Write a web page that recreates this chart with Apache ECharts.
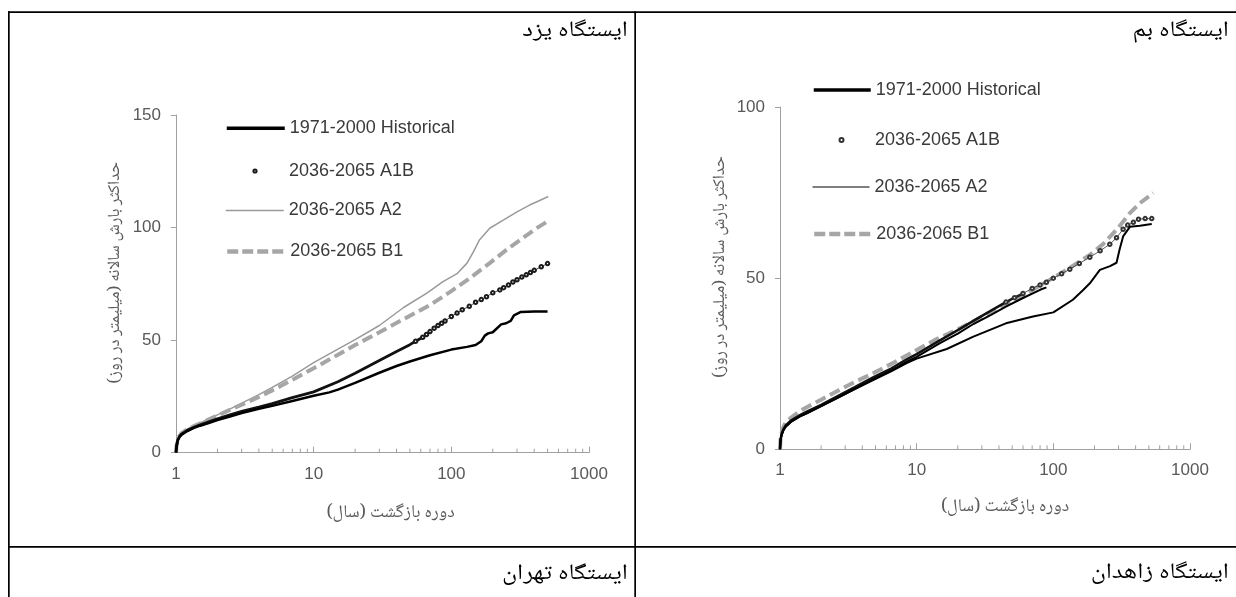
<!DOCTYPE html>
<html><head><meta charset="utf-8">
<script src="https://cdn.jsdelivr.net/npm/echarts@6/dist/echarts.min.js"></script>
<style>html,body{margin:0;padding:0;background:#fff;overflow:hidden}#c{width:1236px;height:597px}</style>
</head><body><div id="c"></div>
<script>
// ---------- data ----------
const seriesLabels = ['1971-2000 Historical', '2036-2065 A1B', '2036-2065 A2', '2036-2065 B1'];
const xTickLabels = ['1', '10', '100', '1000'];
const minorTicks = [2,3,4,5,6,7,8,9,20,30,40,50,60,70,80,90,200,300,400,500,600,700,800,900];
const yazdYTicks = [0, 50, 100, 150];
const bamYTicks = [0, 50, 100];

// Yazd station  [return period (yr), max daily precipitation (mm)]
const yazdHist = [[1,0],[1.01,3],[1.03,5.5],[1.06,7],[1.1,8],[1.2,9.5],[1.35,11],[1.5,12],[1.75,13.3],[2,14.5],[2.5,16.2],[3,17.6],[4,19.5],[5,20.8],[7,23],[10,25.3],[13,26.8],[15,28],[20,31],[30,35.5],[40,38.5],[50,40.5],[70,43.3],[100,45.8],[130,47],[150,47.8],[165,49.5],[175,52],[185,53],[200,53.5],[230,57],[250,57.5],[270,58.5],[285,61],[320,62.5],[400,62.7],[500,62.7]];
const yazdA1B = [[1,0],[1.01,3],[1.03,5.6],[1.06,7.2],[1.1,8.3],[1.2,9.8],[1.35,11.3],[1.5,12.4],[1.75,13.8],[2,15],[2.5,16.9],[3,18.4],[4,20.3],[5,21.8],[7,24.5],[10,27],[15,31.5],[20,35.3],[30,41],[40,45],[50,48],[55,49.5],[62,51.3],[66,52.5],[70,53.8],[75,55.3],[80,56.5],[85,57.5],[90,58.5],[100,60.5],[110,62],[120,63.5],[135,65],[150,66.8],[165,68],[180,69.3],[200,71],[225,72.3],[240,73.3],[260,74.5],[280,75.8],[300,76.8],[325,78],[350,79],[375,80],[400,81],[450,82.6],[500,84]];
const yazdA2 = [[1,0],[1.01,3.2],[1.03,5.8],[1.06,7.5],[1.1,8.8],[1.2,10.4],[1.35,12],[1.5,13.2],[1.75,15.2],[2,16.8],[2.5,19.6],[3,22],[4,25.8],[5,29],[7,34],[10,40],[15,46],[20,50.2],[30,56.5],[45,64.5],[66,70.8],[87,76],[110,79.5],[130,84.2],[145,89.3],[160,94.5],[190,99.7],[240,103.4],[300,107],[370,110],[430,111.8],[506,113.8]];
const yazdB1 = [[1,0],[1.01,3.2],[1.03,5.8],[1.06,7.5],[1.1,8.7],[1.2,10.3],[1.35,11.8],[1.5,13],[1.75,14.9],[2,16.5],[2.5,19.2],[3,21.3],[4,24.8],[5,27.7],[7,32.4],[10,37.5],[15,43.5],[20,47.8],[30,53.5],[45,59.3],[70,65.6],[100,71.8],[136,77.5],[190,84.2],[250,90],[330,95.3],[415,99.7],[520,103.4]];

// Bam station
const bamHist = [[1,0],[1.01,2.8],[1.03,4.3],[1.06,5.6],[1.1,6.6],[1.2,8],[1.4,9.6],[1.57,10.5],[2,12.6],[2.75,15.4],[3.5,17.5],[4.8,20.2],[6.5,22.8],[8.45,25.2],[10,26.5],[16.6,29.3],[26,32.9],[45,36.8],[71,38.8],[100,40],[139,43.7],[166,46.6],[185,48.5],[219,52.4],[260,53.5],[290,54.5],[305,58.3],[324,62.2],[363,65],[430,65.3],[525,65.8]];
const bamA1B = [[1,0],[1.01,3],[1.03,4.6],[1.06,5.9],[1.1,7],[1.2,8.4],[1.4,10],[1.57,11],[2,13],[2.75,15.9],[3.5,18.1],[4.8,21],[6.5,23.6],[8.45,26.3],[10,27.8],[14.8,31.8],[20,34.8],[26,37.5],[35,40.5],[45,43],[52,44.3],[60,45.5],[70,47],[80,48],[89,48.8],[100,50],[115,51.3],[132,52.6],[155,54.3],[185,56.1],[220,58],[259,59.9],[290,61.8],[324,64.3],[350,65.5],[385,66.3],[420,67.2],[470,67.4],[525,67.4]];
const bamA2 = [[1,0],[1.01,2.8],[1.03,4.3],[1.06,5.6],[1.1,6.6],[1.2,8],[1.4,9.6],[1.57,10.5],[2,12.6],[2.75,15.4],[3.5,17.6],[4.8,20.4],[6.5,23],[8.45,25.6],[10,27],[14.8,31],[20,33.8],[26,36.6],[35,39.3],[45,41.7],[60,44.2],[80,46.6],[89,47.3]];
const bamB1 = [[1,0],[1.01,3.2],[1.03,5],[1.06,6.6],[1.1,7.8],[1.2,9.2],[1.4,11.2],[1.57,12.3],[2,14.5],[2.45,16.4],[3.5,19.6],[4.8,22.2],[7,25.6],[10,29],[14,32.2],[19.6,34.9],[26,37.4],[34,39.8],[45,42.3],[60,45],[94,49.5],[132,53],[185,56.8],[232,60],[290,64.1],[363,69],[430,71.9],[538,74.9]];

const stationTitles = ['ایستگاه یزد', 'ایستگاه بم', 'ایستگاه تهران', 'ایستگاه زاهدان'];
const xName = 'دوره بازگشت (سال)';
const yName = 'حداکثر بارش سالانه (میلیمتر در روز)';

// ---------- styling ----------
const LATIN = "'Liberation Sans', Arial, sans-serif";
const PERSIAN = "'Noto Naskh Arabic','Noto Sans Arabic','DejaVu Sans',sans-serif";
const AX = '#a0a0a0';
const RLM = '\u200F';

function xAxis(gi, gap, shift) {
  return {
    type: 'log', logBase: 10, min: 1, max: 1000, gridIndex: gi,
    axisLine: { show: true, lineStyle: { color: AX, width: 1 } },
    axisTick: { show: true, inside: true, length: 6, lineStyle: { color: AX } },
    axisLabel: { margin: 13, fontSize: 17, color: '#595959', fontFamily: LATIN, showMinLabel: true, showMaxLabel: true,
      formatter: v => xTickLabels[Math.round(Math.log10(v))] },
    splitLine: { show: false }, minorTick: { show: false }, minorSplitLine: { show: false },
    name: RLM + xName + RLM, nameLocation: 'middle', nameGap: gap,
    nameTextStyle: { fontFamily: PERSIAN, fontSize: 18, color: '#5a5a5a', padding: [0, 0, 0, shift] }
  };
}
function yAxis(gi, max, gap) {
  return {
    type: 'value', min: 0, max: max, interval: 50, gridIndex: gi,
    axisLine: { show: true, lineStyle: { color: AX, width: 1 } },
    axisTick: { show: true, inside: false, length: 5, lineStyle: { color: AX } },
    axisLabel: { margin: 15, fontSize: 17, color: '#595959', fontFamily: LATIN },
    splitLine: { show: false },
    name: RLM + yName + RLM, nameLocation: 'middle', nameGap: gap, nameRotate: 90,
    nameTextStyle: { fontFamily: PERSIAN, fontSize: 17, color: '#5a5a5a', padding: [0, 0, 0, 22] }
  };
}
function line(name, gi, data, color, width, type, z) {
  return { name: name, type: 'line', xAxisIndex: gi, yAxisIndex: gi, data: data, symbol: 'none', showSymbol: false,
    lineStyle: { color: color, width: width, type: type || 'solid' }, itemStyle: { color: color }, z: z, silent: true };
}
function circles(name, gi, data, color, z) {
  return { name: name, type: 'line', xAxisIndex: gi, yAxisIndex: gi, data: data, symbol: 'emptyCircle', symbolSize: 3.5,
    showSymbol: true, showAllSymbol: true, lineStyle: { color: color, width: 0.8 },
    itemStyle: { color: color, borderWidth: 1 }, z: z, silent: true };
}
function minor(gi) {
  return { type: 'custom', xAxisIndex: gi, yAxisIndex: gi, silent: true, z: 1,
    data: minorTicks.map(t => [t, 0]),
    renderItem: (p, api) => {
      const c = api.coord([api.value(0), api.value(1)]);
      return { type: 'line', shape: { x1: c[0], y1: c[1], x2: c[0], y2: c[1] - 4 }, style: { stroke: AX, lineWidth: 1 } };
    } };
}
function legend(name, left, cy, w, h, lineStyle, isMarker) {
  return {
    show: true, left: left, top: cy - 9, padding: 0, itemGap: 0, itemWidth: w, itemHeight: h,
    selectedMode: false, data: [name], formatter: n => n.split('|')[1],
    textStyle: { fontFamily: LATIN, fontSize: 18, color: '#3a3a3a' },
    lineStyle: lineStyle,
    itemStyle: isMarker ? {} : { opacity: 0 }
  };
}
function title(text, x, y) {
  return { type: 'text', x: x, y: y, scaleX: 1.17, scaleY: 1, silent: true,
    style: { text: text, x: 0, y: 0, align: 'right', verticalAlign: 'middle', fontSize: 22, fontFamily: PERSIAN, fill: '#000' } };
}

const Y = 'yazd|', B = 'bam|';
const option = {
  animation: false,
  backgroundColor: '#fff',
  grid: [
    { left: 176, top: 115, width: 413, height: 337.7, outerBoundsMode: 'none', containLabel: false },
    { left: 780, top: 107, width: 410, height: 342.3, outerBoundsMode: 'none', containLabel: false }
  ],
  xAxis: [xAxis(0, 53, 16), xAxis(1, 50, 40)],
  yAxis: [yAxis(0, 150, 51), yAxis(1, 100, 50)],
  legend: [
    legend(Y + seriesLabels[0], 225, 128.3, 58, 10, { color: '#000', width: 3.5, type: 'solid', opacity: 1 }),
    legend(Y + seriesLabels[1], 225, 171, 58, 4, { opacity: 0 }, true),
    legend(Y + seriesLabels[2], 225, 210.5, 58, 10, { color: '#9a9a9a', width: 1.5, type: 'solid', opacity: 1 }),
    legend(Y + seriesLabels[3], 225, 251.5, 58, 10, { color: '#a6a6a6', width: 4.5, type: [11, 4], opacity: 1 }),
    legend(B + seriesLabels[0], 812, 90, 57, 10, { color: '#000', width: 3.5, type: 'solid', opacity: 1 }),
    legend(B + seriesLabels[1], 812, 140, 57, 5, { opacity: 0 }, true),
    legend(B + seriesLabels[2], 812, 187, 57, 10, { color: '#000', width: 1, type: 'solid', opacity: 1 }),
    legend(B + seriesLabels[3], 812, 234, 57, 10, { color: '#a6a6a6', width: 4.5, type: [11, 4], opacity: 1 })
  ],
  series: [
    minor(0), minor(1),
    // Yazd
    circles(Y + seriesLabels[1], 0, yazdA1B.filter(p => p[0] >= 55), '#1a1a1a', 5),
    line(Y + seriesLabels[2], 0, yazdA2, '#9a9a9a', 1.5, 'solid', 2),
    line(Y + seriesLabels[3], 0, yazdB1, '#a6a6a6', 4, [11, 5], 3),
    line(Y + seriesLabels[1], 0, yazdA1B.filter(p => p[0] <= 62), '#111', 2.8, 'solid', 4),
    line(Y + seriesLabels[0], 0, yazdHist, '#000', 2.5, 'solid', 6),
    // Bam
    circles(B + seriesLabels[1], 1, bamA1B.filter(p => p[0] >= 45), '#333', 5),
    line(B + seriesLabels[3], 1, bamB1, '#a6a6a6', 4, [11, 5], 2),
    line(B + seriesLabels[1], 1, bamA1B.filter(p => p[0] <= 60), '#111', 2.5, 'solid', 4),
    line(B + seriesLabels[2], 1, bamA2, '#000', 2, 'solid', 4),
    line(B + seriesLabels[0], 1, bamHist, '#000', 2, 'solid', 6)
  ],
  graphic: [
    { type: 'rect', shape: { x: 8, y: 11.3, width: 1228, height: 1.7 }, style: { fill: '#000' }, silent: true },
    { type: 'rect', shape: { x: 8, y: 11.3, width: 1.7, height: 586 }, style: { fill: '#000' }, silent: true },
    { type: 'rect', shape: { x: 634.3, y: 11.3, width: 1.7, height: 586 }, style: { fill: '#000' }, silent: true },
    { type: 'rect', shape: { x: 8, y: 546, width: 1228, height: 1.7 }, style: { fill: '#000' }, silent: true },
    title(stationTitles[0], 628, 33),
    title(stationTitles[1], 1229, 33),
    title(stationTitles[2], 628, 576.5),
    title(stationTitles[3], 1229, 575)
  ]
};
const chart = echarts.init(document.getElementById('c'), null, { renderer: 'canvas' });
chart.setOption(option);
</script>
</body></html>
